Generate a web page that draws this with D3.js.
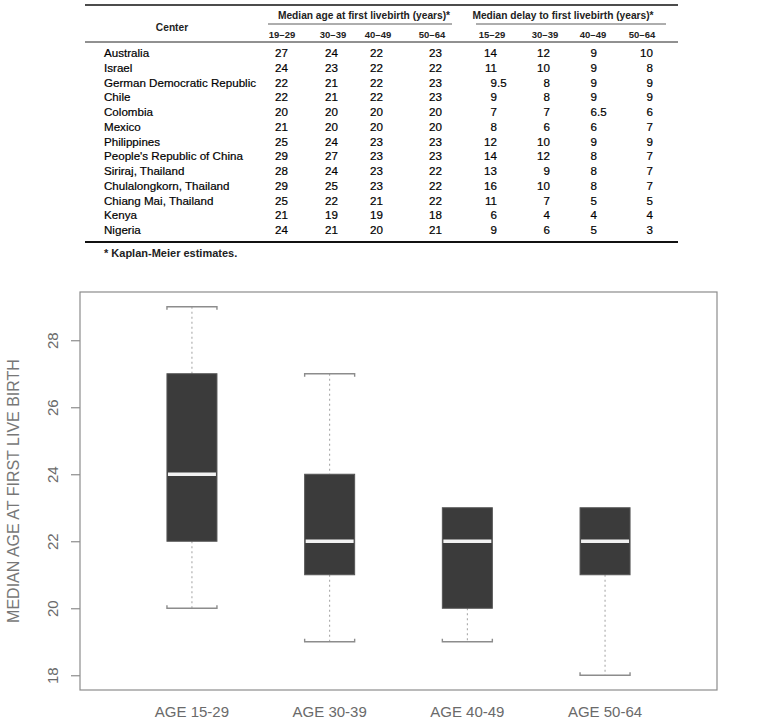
<!DOCTYPE html>
<html>
<head>
<meta charset="utf-8">
<script src="https://cdn.jsdelivr.net/npm/d3@7"></script>
<style>
  body { margin: 0; background: #ffffff; }
  text { font-family: "Liberation Sans", Arial, Helvetica, sans-serif; }
</style>
</head>
<body>
<svg id="svg1" width="757" height="719"></svg>
<script>

// table data
var centers = ["Australia", "Israel", "German Democratic Republic", "Chile", "Colombia", "Mexico",
               "Philippines", "People's Republic of China", "Siriraj, Thailand", "Chulalongkorn, Thailand",
               "Chiang Mai, Thailand", "Kenya", "Nigeria"];
var ageGroups = ["19–29", "30–39", "40–49", "50–64"];
var delayGroups = ["15–29", "30–39", "40–49", "50–64"];

var ageAt19_29 = [27, 24, 22, 22, 20, 21, 25, 29, 28, 29, 25, 21, 24];
var ageAt30_39 = [24, 23, 21, 21, 20, 20, 24, 27, 24, 25, 22, 19, 21];
var ageAt40_49 = [22, 22, 22, 22, 20, 20, 23, 23, 23, 23, 21, 19, 20];
var ageAt50_64 = [23, 22, 23, 23, 20, 20, 23, 23, 22, 22, 22, 18, 21];

var delay15_29 = [14, 11, 9.5, 9, 7, 8, 12, 14, 13, 16, 11, 6, 9];
var delay30_39 = [12, 10, 8, 8, 7, 6, 10, 12, 9, 10, 7, 4, 6];
var delay40_49 = [9, 9, 9, 9, 6.5, 6, 9, 8, 8, 8, 5, 4, 5];
var delay50_64 = [10, 8, 9, 9, 6, 7, 9, 7, 7, 7, 5, 4, 3];

// boxplot categories + axis ticks
var boxLabels = ["AGE 15-29", "AGE 30-39", "AGE 40-49", "AGE 50-64"];
var yTicks = [18, 20, 22, 24, 26, 28];

var svg = d3.select("#svg1");

// ---------------- table ----------------
var tbl = svg.append("g");
var left = 85, right = 678;
var rowY = d3.scalePoint().domain(centers).range([53, 230]);
var colRight = [288, 338, 383, 442, 497, 550, 597, 653];   // right edge of integer part
var colMid = [282, 333, 378, 432, 492, 545, 593, 642];
var columns = [ageAt19_29, ageAt30_39, ageAt40_49, ageAt50_64, delay15_29, delay30_39, delay40_49, delay50_64];

tbl.append("line").attr("x1", left).attr("x2", right).attr("y1", 5).attr("y2", 5)
   .style("stroke", "#111").style("stroke-width", 1.6);
tbl.append("line").attr("x1", left).attr("x2", right).attr("y1", 42).attr("y2", 42)
   .style("stroke", "#222").style("stroke-width", 1);
tbl.append("line").attr("x1", left).attr("x2", right).attr("y1", 242).attr("y2", 242)
   .style("stroke", "#111").style("stroke-width", 2);

// group headers
tbl.append("text").attr("x", 364).attr("y", 19).attr("text-anchor", "middle")
   .attr("font-size", "10.2px").attr("font-weight", "bold").attr("fill", "#222")
   .text("Median age at first livebirth (years)*");
tbl.append("line").attr("x1", 268).attr("x2", 452).attr("y1", 24).attr("y2", 24)
   .style("stroke", "#333").style("stroke-width", 0.8);
tbl.append("text").attr("x", 563).attr("y", 19).attr("text-anchor", "middle")
   .attr("font-size", "10.2px").attr("font-weight", "bold").attr("fill", "#222")
   .text("Median delay to first livebirth (years)*");
tbl.append("line").attr("x1", 476).attr("x2", 666).attr("y1", 24).attr("y2", 24)
   .style("stroke", "#333").style("stroke-width", 0.8);

tbl.append("text").attr("x", 172).attr("y", 31).attr("text-anchor", "middle")
   .attr("font-size", "10.2px").attr("font-weight", "bold").attr("fill", "#222")
   .text("Center");

tbl.selectAll(".colhead")
   .data(ageGroups.concat(delayGroups))
   .enter().append("text")
   .attr("x", function(d, i) { return colMid[i]; })
   .attr("y", 37.5)
   .attr("text-anchor", "middle")
   .attr("font-size", "9.5px")
   .attr("font-weight", "bold")
   .attr("fill", "#222")
   .text(function(d) { return d; });

// row labels
tbl.selectAll(".rowlab")
   .data(centers)
   .enter().append("text")
   .attr("x", 104)
   .attr("y", function(d) { return rowY(d) + 4; })
   .attr("font-size", "11.6px")
   .attr("fill", "#000")
   .style("stroke", "#000").style("stroke-width", 0.2)
   .text(function(d) { return d; });

// cell values, aligned on the decimal point
columns.forEach(function(col, j) {
    col.forEach(function(v, i) {
        var whole = Math.floor(v), frac = v - whole;
        var y = rowY(centers[i]) + 4;
        tbl.append("text")
           .attr("x", colRight[j]).attr("y", y)
           .attr("text-anchor", "end")
           .attr("font-size", "11.6px").attr("fill", "#000")
           .style("stroke", "#000").style("stroke-width", 0.2)
           .text(whole);
        if (frac > 0) {
            tbl.append("text")
               .attr("x", colRight[j]).attr("y", y)
               .attr("font-size", "11.6px").attr("fill", "#000")
               .style("stroke", "#000").style("stroke-width", 0.2)
               .text(String(v).slice(String(whole).length));
        }
    });
});

tbl.append("text").attr("x", 104).attr("y", 257)
   .attr("font-size", "11px").attr("font-weight", "bold").attr("fill", "#222")
   .text("* Kaplan-Meier estimates.");

// ---------------- boxplot ----------------
var plot = { left: 80, right: 717, top: 292, bottom: 690 };

// R style five number summary (Tukey hinges, whiskers at 1.5 IQR)
function fivenum(values) {
    var s = values.slice().sort(d3.ascending), n = s.length;
    var n4 = Math.floor((n + 3) / 2) / 2;
    var idx = [1, n4, (n + 1) / 2, n + 1 - n4, n];
    var q = idx.map(function(k) { return 0.5 * (s[Math.floor(k) - 1] + s[Math.ceil(k) - 1]); });
    var iqr = q[3] - q[1];
    var lo = d3.min(s.filter(function(v) { return v >= q[1] - 1.5 * iqr; }));
    var hi = d3.max(s.filter(function(v) { return v <= q[3] + 1.5 * iqr; }));
    return { lo: lo, q1: q[1], med: q[2], q3: q[3], hi: hi };
}

var ageColumns = [ageAt19_29, ageAt30_39, ageAt40_49, ageAt50_64];
var stats = ageColumns.map(function(c, i) {
    var f = fivenum(c);
    f.label = boxLabels[i];
    return f;
});

var xScale = d3.scalePoint().domain(boxLabels).range([plot.left, plot.right]).padding(0.813);
var yScale = d3.scaleLinear().domain([17.56, 29.44]).range([plot.bottom, plot.top]);
var boxW = 50;

var g = svg.append("g");

// frame
g.append("rect")
 .attr("x", plot.left).attr("y", plot.top)
 .attr("width", plot.right - plot.left).attr("height", plot.bottom - plot.top)
 .style("fill", "none").style("stroke", "#8c8c8c").style("stroke-width", 1.2);

// y axis, R style rotated labels
var yAxis = g.append("g")
 .attr("transform", "translate(" + plot.left + ",0)")
 .call(d3.axisLeft(yScale).tickValues(yTicks).tickSize(9).tickPadding(0).tickFormat(function(d) { return d; }));
yAxis.select(".domain").remove();
yAxis.selectAll(".tick line").style("stroke", "#8c8c8c").style("stroke-width", 1.2);
yAxis.selectAll(".tick text")
 .attr("x", null).attr("dy", null)
 .attr("text-anchor", "middle")
 .attr("transform", "translate(-27,0) rotate(-90)")
 .attr("dy", "0.35em")
 .attr("font-size", "15px")
 .attr("font-family", "\"Liberation Sans\", Arial, sans-serif")
 .attr("fill", "#6a6a6a");

g.append("text")
 .attr("transform", "translate(19," + ((plot.top + plot.bottom) / 2) + ") rotate(-90)")
 .attr("text-anchor", "middle")
 .attr("font-size", "16px")
 .attr("fill", "#777")
 .text("MEDIAN AGE AT FIRST LIVE BIRTH");

// x labels
g.selectAll(".xlab")
 .data(boxLabels)
 .enter().append("text")
 .attr("x", function(d) { return xScale(d); })
 .attr("y", 717)
 .attr("text-anchor", "middle")
 .attr("font-size", "15px")
 .attr("fill", "#6a6a6a")
 .text(function(d) { return d; });

var boxes = g.selectAll(".box")
 .data(stats)
 .enter().append("g");

// dashed whiskers
boxes.append("line")
 .attr("x1", function(d) { return xScale(d.label); })
 .attr("x2", function(d) { return xScale(d.label); })
 .attr("y1", function(d) { return yScale(d.hi); })
 .attr("y2", function(d) { return yScale(d.q3); })
 .style("stroke", "#a0a0a0").style("stroke-width", 1).style("stroke-dasharray", "2,3");
boxes.append("line")
 .attr("x1", function(d) { return xScale(d.label); })
 .attr("x2", function(d) { return xScale(d.label); })
 .attr("y1", function(d) { return yScale(d.q1); })
 .attr("y2", function(d) { return yScale(d.lo); })
 .style("stroke", "#a0a0a0").style("stroke-width", 1).style("stroke-dasharray", "2,3");

// staples, little bracket ends pointing at the box
function staple(sel, key, dir) {
    sel.filter(function(d) { return key === "hi" ? d.hi > d.q3 : d.lo < d.q1; })
       .append("path")
       .attr("d", function(d) {
           var x0 = xScale(d.label) - boxW / 2, x1 = xScale(d.label) + boxW / 2, y = yScale(d[key]);
           return "M" + x0 + "," + (y + 3 * dir) + "V" + y + "H" + x1 + "V" + (y + 3 * dir);
       })
       .style("fill", "none").style("stroke", "#8c8c8c").style("stroke-width", 1.4);
}
staple(boxes, "hi", 1);
staple(boxes, "lo", -1);

// boxes
boxes.append("rect")
 .attr("x", function(d) { return xScale(d.label) - boxW / 2; })
 .attr("y", function(d) { return yScale(d.q3); })
 .attr("width", boxW)
 .attr("height", function(d) { return yScale(d.q1) - yScale(d.q3); })
 .style("fill", "#3b3b3b").style("stroke", "#555").style("stroke-width", 1);

// white median bar
boxes.append("line")
 .attr("x1", function(d) { return xScale(d.label) - boxW / 2 + 1; })
 .attr("x2", function(d) { return xScale(d.label) + boxW / 2 - 1; })
 .attr("y1", function(d) { return yScale(d.med); })
 .attr("y2", function(d) { return yScale(d.med); })
 .style("stroke", "#f2f2f2").style("stroke-width", 3.5);

</script>
</body>
</html>
